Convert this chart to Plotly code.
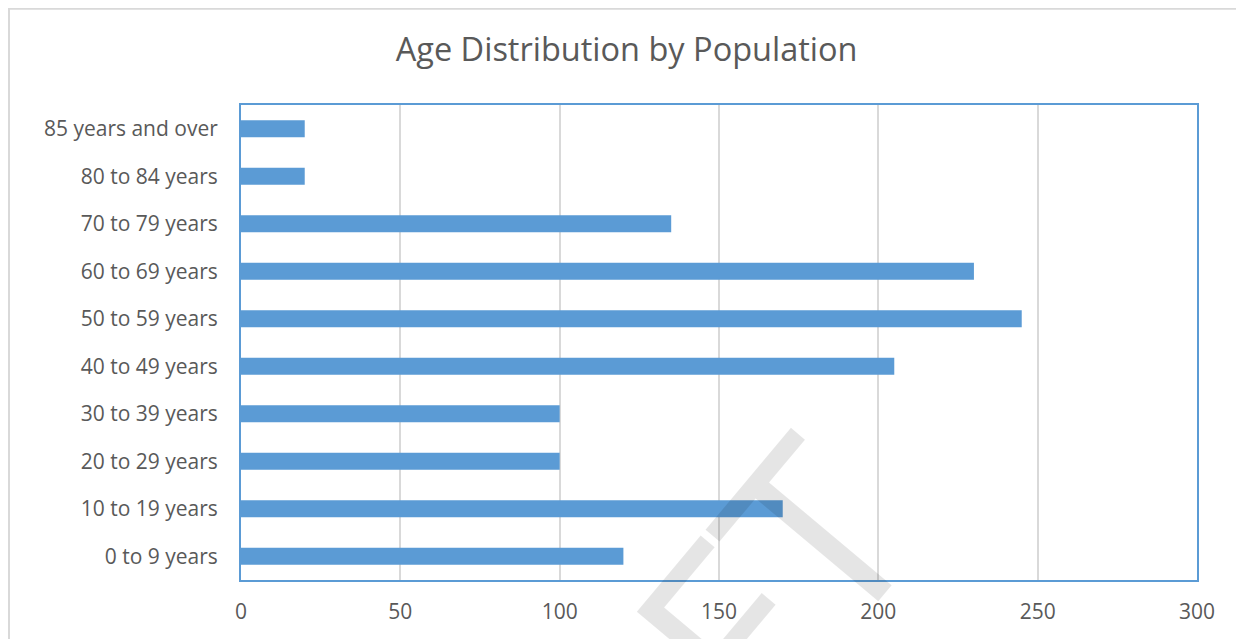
import plotly.graph_objects as go

categories = ["0 to 9 years", "10 to 19 years", "20 to 29 years", "30 to 39 years",
              "40 to 49 years", "50 to 59 years", "60 to 69 years", "70 to 79 years",
              "80 to 84 years", "85 years and over"]
population = [120, 170, 100, 100, 205, 245, 230, 135, 20, 20]
x_ticks = [0, 50, 100, 150, 200, 250, 300]

FONT = "Open Sans"
TXT = "#595959"
BLUE = "#5B9BD5"

fig = go.Figure(go.Bar(
    x=population, y=categories, orientation="h",
    marker=dict(color=BLUE, line=dict(width=0)),
))

fig.update_layout(
    width=1236, height=631,
    paper_bgcolor="white", plot_bgcolor="white",
    margin=dict(l=233, r=47, t=97, b=59),
    bargap=0.64,
    showlegend=False,
    title=dict(text="Age Distribution by Population", x=0.5005, xanchor="center",
               y=0.9334, yanchor="middle",
               font=dict(family=FONT, size=32.5, color=TXT)),
    font=dict(family=FONT, color=TXT),
)
fig.update_xaxes(
    range=[0, 300], tickvals=x_ticks, ticktext=[str(v) for v in x_ticks],
    showgrid=True, gridcolor="#D9D9D9", gridwidth=1.5,
    zeroline=False, showline=True, linecolor=BLUE, linewidth=2, mirror=True,
    ticks="", ticklabelstandoff=12,
    tickfont=dict(family=FONT, size=21, color=TXT),
)
fig.update_yaxes(
    categoryorder="array", categoryarray=categories,
    showgrid=False, zeroline=False,
    showline=True, linecolor=BLUE, linewidth=2, mirror=True,
    ticks="", ticklabelstandoff=17,
    tickfont=dict(family=FONT, size=21, color=TXT),
)

# outer chart-area border
fig.add_shape(type="rect", xref="paper", yref="paper",
              x0=-0.2427, x1=1.2, y0=-0.3, y1=1.2025,
              line=dict(color="#D9D9D9", width=2), fillcolor="rgba(0,0,0,0)",
              layer="below")

# watermark
fig.add_annotation(text="DRAFT", xref="paper", yref="paper", x=0.387, y=-0.398,
                   xanchor="center", yanchor="middle", showarrow=False,
                   textangle=-50,
                   font=dict(family="Open Sans", size=250, color="rgba(0,0,0,0.10)"))

fig.write_html("out.html")
